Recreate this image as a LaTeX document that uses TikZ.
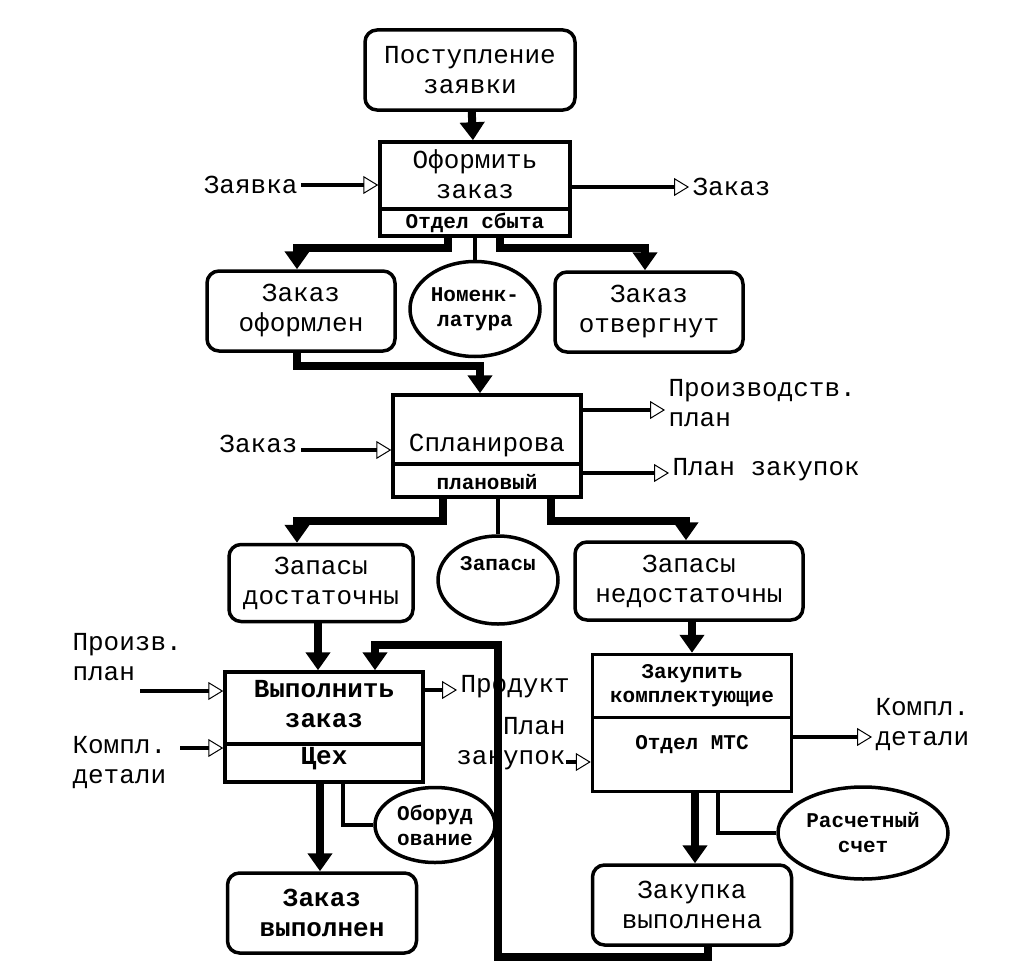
\documentclass[tikz,border=0pt]{standalone}
\usepackage{fontspec}
\setmainfont{Liberation Mono}
\usetikzlibrary{shapes.geometric, arrows.meta}
\tikzstyle{event} = [rectangle, rounded corners=12pt, minimum width=188pt, minimum height=80pt, align=center, draw=black, line width=3.5pt, font=\fontsize{26}{30}\selectfont]
\tikzstyle{func} = [rectangle, draw=black, line width=3.5pt, minimum width=190pt]
\tikzstyle{res} = [ellipse, draw=black, line width=3.5pt, align=center, inner sep=0pt, font=\fontsize{21}{25}\selectfont\bfseries]
\tikzstyle{ftitle} = [align=center, font=\fontsize{26}{30}\selectfont]
\tikzstyle{dept} = [align=center, font=\fontsize{21}{24}\selectfont\bfseries]
\tikzstyle{lbl} = [align=left, font=\fontsize{26}{30}\selectfont]
\tikzstyle{arrow} = [line width=8pt, -{Triangle[width=24pt,length=18pt]}]
\tikzstyle{inout} = [line width=4.5pt, -{Triangle[open,width=18pt,length=15pt,line width=1pt]}]
\tikzstyle{mech} = [line width=4pt]

\begin{document}
\begin{tikzpicture}[x=1pt, y=-1pt]
	\useasboundingbox (0,0) rectangle (1028,966);

	% order intake
	\node (postup) [event, minimum width=210pt] at (470,70) {Поступление\\заявки};
	\node (oform) [func, minimum height=94pt] at (475,189) {};
	\node (oformt) [ftitle] at (475,174) {Оформить\\заказ};
	\node (oformd) [dept] at (475,223) {Отдел сбыта};
	\draw [line width=3.5pt] ([yshift=29pt]oform.south west) -- ([yshift=29pt]oform.south east);
	\node (zayavka) [lbl, anchor=east] at (301,185) {Заявка};
	\node (zakazout) [lbl, anchor=west] at (689,187) {Заказ};

	\node (zoform) [event] at (301,311) {Заказ\\оформлен};
	\node (nomenk) [res, minimum width=130pt, minimum height=95pt] at (475,309) {Номенк-\\латура};
	\node (zotverg) [event] at (649,312) {Заказ\\отвергнут};

	\draw [arrow] (postup) -- (oform);
	\draw [inout] (zayavka.east) -- (zayavka.east -| oform.west);
	\draw [inout] (zakazout.west -| oform.east) -- (zakazout.west);
	\draw [arrow] ([xshift=-27pt]oform.south) -- ++(0,10) -| ([xshift=-4pt]zoform.north);
	\draw [arrow] ([xshift=25pt]oform.south) -- ++(0,10) -| ([xshift=-4pt]zotverg.north);
	\draw [mech] (oform.south) -- (nomenk.north);

	% planning
	\node (splan) [func, minimum width=188pt, minimum height=102pt] at (487,446) {};
	\node (splant) [ftitle] at (487,445) {Спланирова};
	\node (pland) [dept] at (487,482) {плановый};
	\draw [line width=3.5pt] ([yshift=35pt]splan.south west) -- ([yshift=35pt]splan.south east);
	\node (zakazin) [lbl, anchor=east] at (301,444) {Заказ};
	\node (prplan) [lbl, anchor=west] at (665,403) {Производств.\\план};
	\node (zakplan) [lbl, anchor=west] at (669,470) {План закупок};

	\draw [arrow] ([xshift=-4pt]zoform.south) -- ++(0,13) -| ([xshift=-7pt]splan.north);
	\draw [inout] ([yshift=-6pt]zakazin.east) -- ([yshift=-6pt]zakazin.east -| splan.west);
	\draw [inout] ([yshift=-7pt]prplan.west -| splan.east) -- ([yshift=-7pt]prplan.west);
	\draw [inout] ([yshift=-3pt]zakplan.west -| splan.east) -- ([yshift=-3pt]zakplan.west);

	\node (zapdost) [event, minimum width=184pt, minimum height=77pt] at (321,583) {Запасы\\достаточны};
	\node (zapasy) [res, minimum width=120pt, minimum height=88pt] at (498,580) {Запасы\\\strut};
	\node (zapnedost) [event, minimum width=228pt, minimum height=78pt] at (689,581) {Запасы\\недостаточны};

	\draw [arrow] ([xshift=-44pt]splan.south) -- ++(0,22) -| ([xshift=-24pt]zapdost.north);
	\draw [arrow] ([xshift=64pt]splan.south) -- ++(0,22) -| ([xshift=-3pt]zapnedost.north);
	\draw [mech] ([xshift=11pt]splan.south) -- (zapasy.north);

	% workshop
	\node (vypoln) [func, minimum width=198pt, minimum height=110pt] at (324,727) {};
	\node (vypolnt) [ftitle, font=\fontsize{26}{30}\selectfont\bfseries] at (324,704) {Выполнить\\заказ};
	\node (vypolnd) [ftitle, font=\fontsize{26}{30}\selectfont\bfseries] at (324,759) {Цех};
	\draw [line width=3.5pt] ([yshift=40pt]vypoln.south west) -- ([yshift=40pt]vypoln.south east);
	\node (proizv) [lbl, anchor=west] at (69,657) {Произв.\\план};
	\coordinate (proizvin) at (140,691);
	\node (kompl) [lbl, anchor=west] at (69,763) {Компл.\\детали};
	\coordinate (komplin) at (180,748);
	\node (produkt) [lbl, anchor=west] at (457,687) {Продукт};
	\node (oborud) [res, minimum width=120pt, minimum height=75pt] at (435,825) {Оборуд\\ование};
	\node (zvypoln) [event, minimum width=189pt, font=\fontsize{26}{30}\selectfont\bfseries] at (322,913) {Заказ\\выполнен};

	\draw [arrow] ([xshift=-3pt]zapdost.south) -- ([xshift=-6pt]vypoln.north);
	\draw [inout] (proizvin) -- (proizvin -| vypoln.west);
	\draw [inout] (komplin) -- (komplin -| vypoln.west);
	\draw [inout] ([yshift=-3pt]produkt.west -| vypoln.east) -- ([yshift=-3pt]produkt.west);
	\draw [arrow] ([xshift=-4pt]vypoln.south) -- ([xshift=-2pt]zvypoln.north);
	\draw [mech] ([xshift=19pt]vypoln.south) |- (oborud.west);

	% purchasing
	\node (zakupit) [func, minimum width=199pt, minimum height=137pt] at (692,723) {};
	\node (zakupitt) [dept] at (692,686) {Закупить\\комплектующие};
	\node (zakupitd) [dept] at (692,745) {Отдел МТС};
	\draw [line width=3.5pt] ([yshift=76pt]zakupit.south west) -- ([yshift=76pt]zakupit.south east);
	\node (zplan) [lbl, align=right, anchor=east] at (569,744) {План\\закупок};
	\coordinate (zplanin) at (566,762);
	\node (komplout) [lbl, anchor=west] at (872,725) {Компл.\\детали};
	\node (raschet) [res, minimum width=170pt, minimum height=92pt] at (863,833) {Расчетный\\счет};
	\node (zakvypoln) [event, minimum width=199pt] at (692,905) {Закупка\\выполнена};

	\draw [arrow] ([xshift=3pt]zapnedost.south) -- (zakupit.north);
	\draw [inout] (zplanin) -- (zplanin -| zakupit.west);
	\draw [inout] ([yshift=-12pt]komplout.west -| zakupit.east) -- ([yshift=-12pt]komplout.west);
	\draw [arrow] ([xshift=3pt]zakupit.south) -- ([xshift=3pt]zakvypoln.north);
	\draw [mech] ([xshift=26pt]zakupit.south) |- (raschet.west);

	% parts back to the workshop
	\coordinate (loop) at (498,645);
	\draw [arrow] ([xshift=16pt]zakvypoln.south) -- ++(0,10) -| (loop) -| ([xshift=51pt]vypoln.north);

\end{tikzpicture}
\end{document}
